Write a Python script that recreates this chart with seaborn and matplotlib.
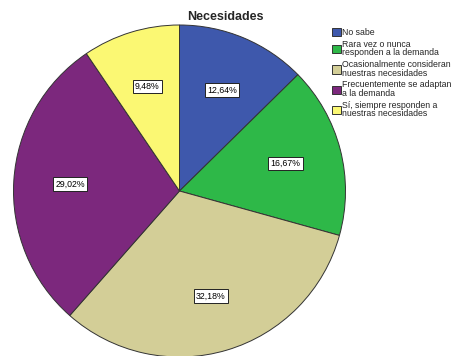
import matplotlib
matplotlib.use("Agg")
import matplotlib.pyplot as plt
import seaborn as sns

sns.set_theme(style="white")
plt.rcParams["font.family"] = ["Liberation Sans", "DejaVu Sans"]

categories = [
    "No sabe",
    "Rara vez o nunca\nresponden a la demanda",
    "Ocasionalmente consideran\nnuestras necesidades",
    "Frecuentemente se adaptan\na la demanda",
    "Sí, siempre responden a\nnuestras necesidades",
]
percentages = [12.64, 16.67, 32.18, 29.02, 9.48]
colors = ["#3E58AC", "#2EB848", "#D3CE97", "#7C287D", "#FBF873"]
title = "Necesidades"

W, H = 451, 356
fig = plt.figure(figsize=(W / 100, H / 100), dpi=100)

# pie axes: centre ~ (179.5, 191) px, radius ~166 px
cx, cy, r = 179.5, 191.0, 166.0
ax = fig.add_axes([(cx - r) / W, (H - cy - r) / H, 2 * r / W, 2 * r / H])
ax.set_aspect("equal")

wedges, texts, autotexts = ax.pie(
    percentages,
    colors=colors,
    startangle=90,
    counterclock=False,
    autopct=lambda p: f"{p:.2f}%".replace(".", ","),
    pctdistance=0.66,
    wedgeprops=dict(edgecolor="#333333", linewidth=0.7),
    textprops=dict(fontsize=6.3, color="black"),
)
for t in autotexts:
    t.set_bbox(dict(boxstyle="square,pad=0.25", facecolor="white",
                    edgecolor="#222222", linewidth=0.7))
ax.set_xlim(-1.0, 1.0)
ax.set_ylim(-1.0, 1.0)
ax.axis("off")

fig.text(225 / W, 1 - 17 / H, title, ha="center", va="center",
         fontsize=9, fontweight="bold")

handles = [plt.Rectangle((0, 0), 1, 1, facecolor=c, edgecolor="#333333",
                         linewidth=0.7) for c in colors]
leg = fig.legend(handles, categories, loc="upper left",
                 bbox_to_anchor=(332 / W, 1 - 28 / H), frameon=False,
                 fontsize=6.3, handlelength=1.0, handleheight=1.1,
                 handletextpad=0.2, labelspacing=0.3, borderpad=0,
                 borderaxespad=0)
for t in leg.get_texts():
    t.set_linespacing(0.95)

fig.savefig("out.png", dpi=100, facecolor="white")
